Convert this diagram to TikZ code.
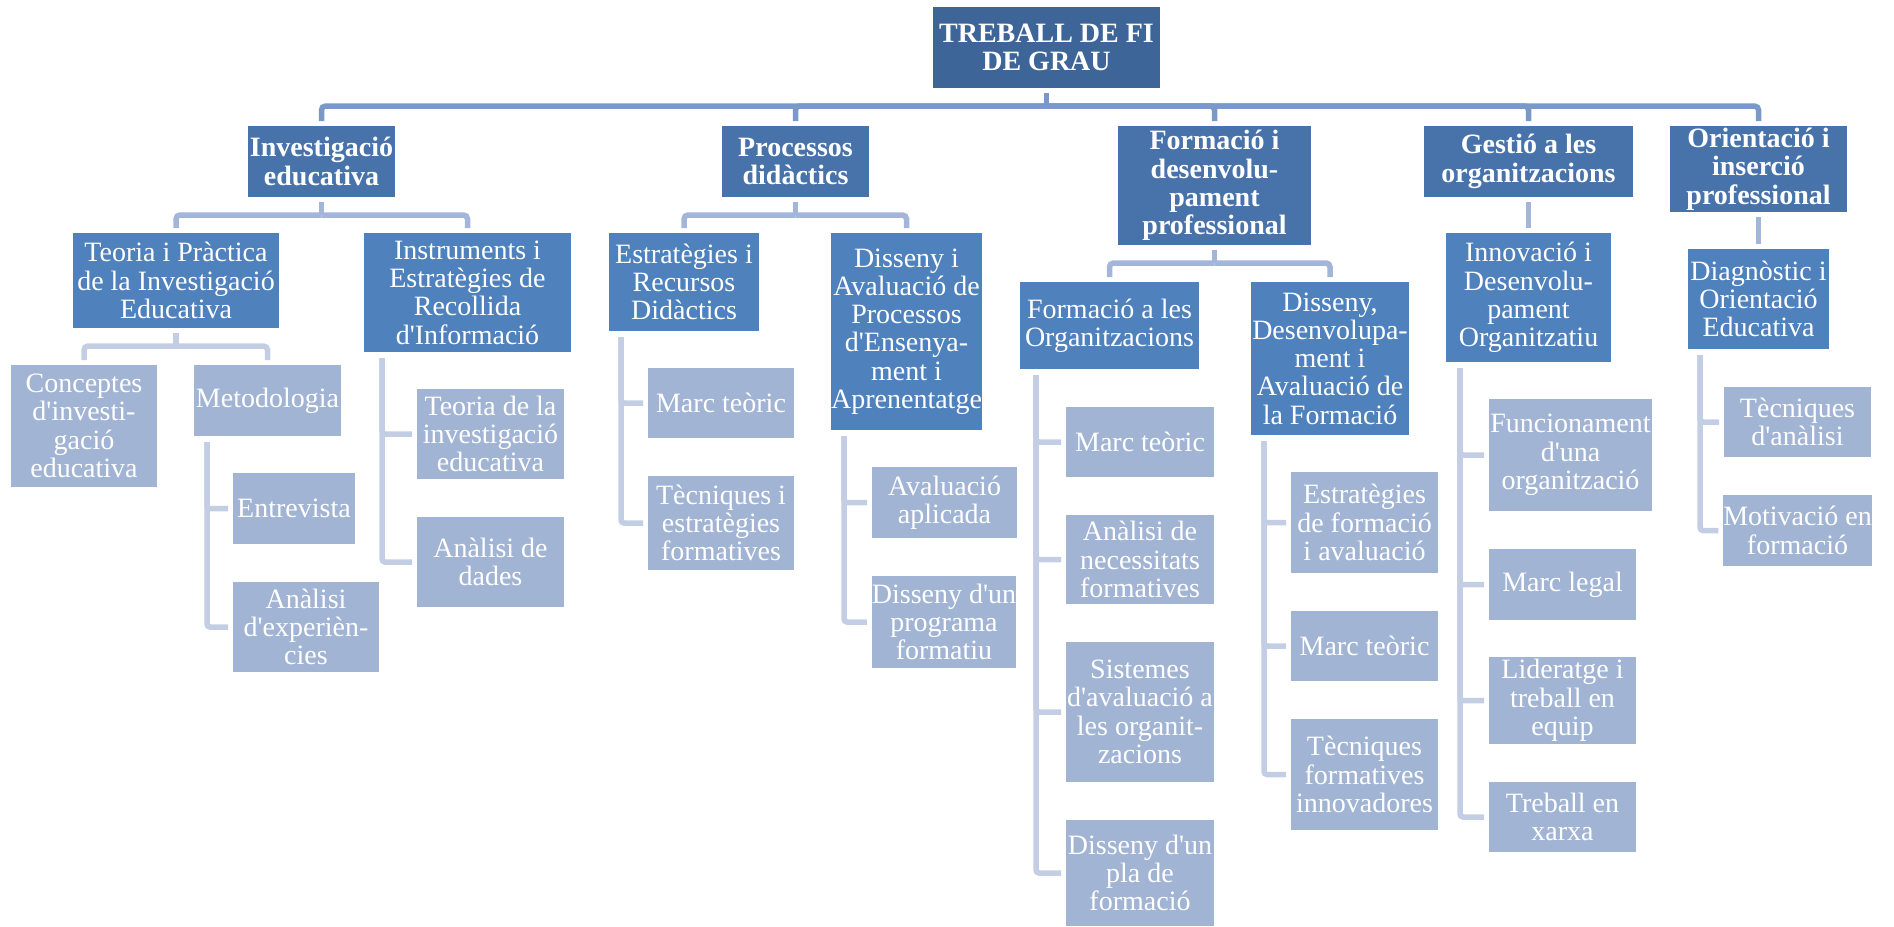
\documentclass[tikz,border=0pt]{standalone}
\usepackage{fontspec}
\setmainfont{Liberation Serif}
\definecolor{c0}{HTML}{3D6598}
\definecolor{c1}{HTML}{4873AA}
\definecolor{c2}{HTML}{4F81BD}
\definecolor{c3}{HTML}{A2B4D4}
\definecolor{k0}{HTML}{7A99C9}
\definecolor{k1}{HTML}{A3B5D9}
\definecolor{k2}{HTML}{C3CEE4}
\newcommand\q{\textquotesingle}
\newcommand\bx[7]{\node[#6, minimum width={(#4)-(#2)}, minimum height={(#5)-(#3)}] (#1) at ({((#2)+(#4))/2},{((#3)+(#5))/2}) {#7};}
\newcommand\bus[3]{\draw[#1] ([yshift=-5pt]#2.south) -- ++(0,13) coordinate (tmp);
  \draw[#1, rounded corners=4pt] (tmp) -| ([yshift=5pt]#3.north);}
\newcommand\brk[3]{\draw[k2line, rounded corners=3pt] ([xshift=#1pt,yshift=-6pt]#2.south west) |- ([xshift=-5pt]#3.west);}
\begin{document}
\begin{tikzpicture}[x=1pt,y=-1pt,
  box/.style={inner sep=0pt, outer sep=0pt, align=center, text=white, font=\fontsize{28}{28.3}\selectfont},
  l0/.style={box, fill=c0, font=\fontsize{28}{28.3}\selectfont\bfseries},
  l1/.style={box, fill=c1, font=\fontsize{28}{28.3}\selectfont\bfseries},
  l2/.style={box, fill=c2},
  l3/.style={box, fill=c3},
  k0line/.style={draw=k0, line width=5.5pt},
  k1line/.style={draw=k1, line width=5.5pt},
  k2line/.style={draw=k2, line width=5.5pt},
]
\useasboundingbox (0,0) rectangle (1894,926);
% level 0
\bx{root}{933}{7}{1160}{88}{l0}{TREBALL DE FI\\DE GRAU}
% level 1
\bx{inv}{248}{126}{395}{197}{l1}{Investigació\\educativa}
\bx{pro}{722}{126}{869}{197}{l1}{Processos\\didàctics}
\bx{for}{1118}{126}{1311}{245}{l1}{Formació i\\desenvolu-\\pament\\professional}
\bx{ges}{1424}{126}{1633}{197}{l1}{Gestió a les\\organitzacions}
\bx{ori}{1670}{126}{1847}{212}{l1}{Orientació i\\inserció\\professional}
% level 2
\bx{teo}{73}{233}{279}{328}{l2}{Teoria i Pràctica\\de la Investigació\\Educativa}
\bx{ins}{364}{233}{571}{352}{l2}{Instruments i\\Estratègies de\\Recollida\\d\q Informació}
\bx{est}{609}{233}{759}{331}{l2}{Estratègies i\\Recursos\\Didàctics}
\bx{dis}{831}{233}{982}{430}{l2}{Disseny i\\Avaluació de\\Processos\\d\q Ensenya-\\ment i\\Aprenentatge}
\bx{fao}{1020}{282}{1199}{369}{l2}{Formació a les\\Organitzacions}
\bx{ddf}{1251}{282}{1409}{435}{l2}{Disseny,\\Desenvolupa-\\ment i\\Avaluació de\\la Formació}
\bx{inn}{1446}{233}{1611}{362}{l2}{Innovació i\\Desenvolu-\\pament\\Organitzatiu}
\bx{dia}{1688}{249}{1829}{349}{l2}{Diagnòstic i\\Orientació\\Educativa}
% level 3
\bx{con}{11}{365}{157}{487}{l3}{Conceptes\\d\q investi-\\gació\\educativa}
\bx{met}{194}{365}{341}{436}{l3}{Metodologia}
\bx{ent}{233}{473}{355}{544}{l3}{Entrevista}
\bx{ane}{233}{582}{379}{672}{l3}{Anàlisi\\d\q experièn-\\cies}
\bx{tdi}{417}{389}{564}{479}{l3}{Teoria de la\\investigació\\educativa}
\bx{and}{417}{517}{564}{607}{l3}{Anàlisi de\\dades}
\bx{mta}{648}{368}{794}{438}{l3}{Marc teòric}
\bx{tef}{648}{476}{794}{570}{l3}{Tècniques i\\estratègies\\formatives}
\bx{ava}{872}{467}{1017}{538}{l3}{Avaluació\\aplicada}
\bx{dpf}{872}{576}{1016}{668}{l3}{Disseny d\q un\\programa\\formatiu}
\bx{mtb}{1066}{407}{1214}{477}{l3}{Marc teòric}
\bx{anf}{1066}{515}{1214}{604}{l3}{Anàlisi de\\necessitats\\formatives}
\bx{sis}{1066}{642}{1214}{782}{l3}{Sistemes\\d\q avaluació a\\les organit-\\zacions}
\bx{dpl}{1066}{820}{1214}{926}{l3}{Disseny d\q un\\pla de\\formació}
\bx{efa}{1291}{472}{1438}{573}{l3}{Estratègies\\de formació\\i avaluació}
\bx{mtc}{1291}{611}{1438}{681}{l3}{Marc teòric}
\bx{tfi}{1291}{719}{1438}{830}{l3}{Tècniques\\formatives\\innovadores}
\bx{fun}{1489}{399}{1652}{511}{l3}{Funcionament\\d\q una\\organització}
\bx{mle}{1489}{549}{1636}{620}{l3}{Marc legal}
\bx{lid}{1489}{657}{1636}{744}{l3}{Lideratge i\\treball en\\equip}
\bx{txa}{1489}{782}{1636}{852}{l3}{Treball en\\xarxa}
\bx{tan}{1724}{387}{1871}{457}{l3}{Tècniques\\d\q anàlisi}
\bx{mot}{1724}{495}{1871}{566}{l3}{Motivació en\\formació}
% connectors root -> level 1
\bus{k0line}{root}{inv}
\bus{k0line}{root}{pro}
\bus{k0line}{root}{for}
\bus{k0line}{root}{ges}
\bus{k0line}{root}{ori}
% level 1 -> level 2
\bus{k1line}{inv}{teo}
\bus{k1line}{inv}{ins}
\bus{k1line}{pro}{est}
\bus{k1line}{pro}{dis}
\bus{k1line}{for}{fao}
\bus{k1line}{for}{ddf}
\bus{k1line}{ges}{inn}
\bus{k1line}{ori}{dia}
% level 2 -> level 3
\bus{k2line}{teo}{con}
\bus{k2line}{teo}{met}
\brk{13}{met}{ent}
\brk{13}{met}{ane}
\brk{18}{ins}{tdi}
\brk{18}{ins}{and}
\brk{12}{est}{mta}
\brk{12}{est}{tef}
\brk{13}{dis}{ava}
\brk{13}{dis}{dpf}
\brk{16}{fao}{mtb}
\brk{16}{fao}{anf}
\brk{16}{fao}{sis}
\brk{16}{fao}{dpl}
\brk{13}{ddf}{efa}
\brk{13}{ddf}{mtc}
\brk{13}{ddf}{tfi}
\brk{14}{inn}{fun}
\brk{14}{inn}{mle}
\brk{14}{inn}{lid}
\brk{14}{inn}{txa}
\brk{12}{dia}{tan}
\brk{12}{dia}{mot}
\end{tikzpicture}
\end{document}
